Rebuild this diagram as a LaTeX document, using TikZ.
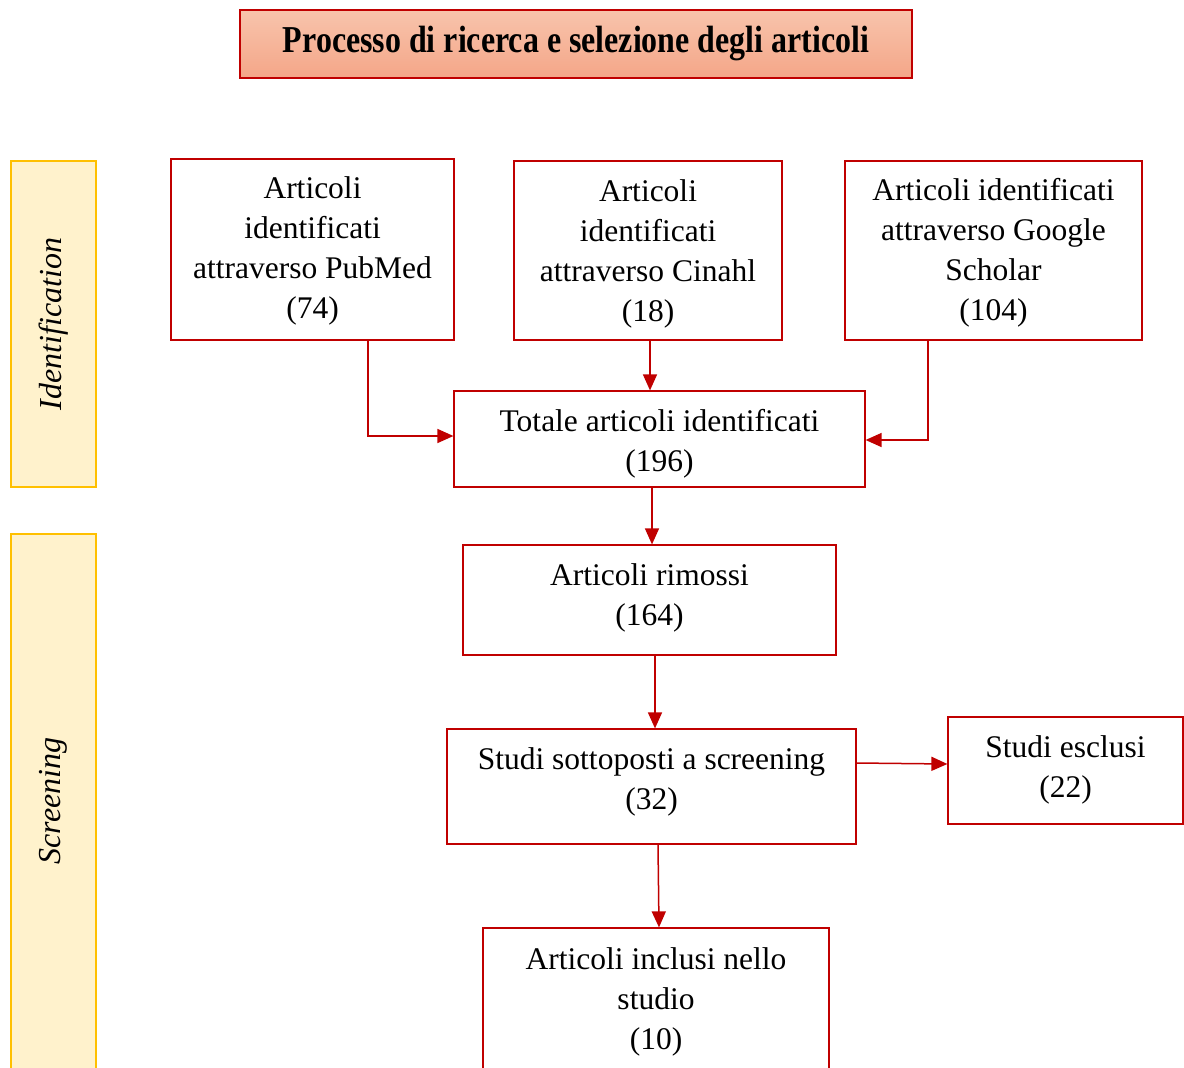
\documentclass[tikz,border=0pt]{standalone}
\usepackage{fontspec}
\setmainfont{Liberation Serif}
\usetikzlibrary{arrows.meta}
\definecolor{boxred}{RGB}{192,0,0}
\definecolor{sidefill}{RGB}{255,242,204}
\definecolor{sidedraw}{RGB}{255,192,0}
\definecolor{titletop}{RGB}{248,196,172}
\definecolor{titlebot}{RGB}{244,166,136}
\newcommand\boxlines[2]{\raisebox{#1}[\height][\depth]{\begin{tabular}{@{}c@{}}#2\end{tabular}}}
\tikzset{
  flowbox/.style={draw=boxred, line width=1.2pt, fill=white, align=center, inner sep=0pt,
    font={\fontsize{31.5}{40}\selectfont}},
  sidebox/.style={draw=sidedraw, line width=1.2pt, fill=sidefill, inner sep=0pt},
  sidetext/.style={rotate=90, font={\fontsize{32}{40}\selectfont\itshape}},
  flowarrow/.style={draw=boxred, line width=1.5pt, -{Triangle[length=16pt,width=14pt]}, color=boxred},
}
\begin{document}
\begin{tikzpicture}[x=1pt,y=-1pt]
\useasboundingbox (0,0) rectangle (1184,1068);
\clip (0,0) rectangle (1184,1068);
% title
\node[draw=boxred, line width=1.5pt, top color=titletop, bottom color=titlebot,
  minimum width=672pt, minimum height=68pt, inner sep=0pt] (title) at (576,44)
  {\resizebox{586pt}{\height}{\fontsize{38}{40}\selectfont\bfseries Processo di ricerca e selezione degli articoli}};
% side panels
\node[sidebox, minimum width=85pt, minimum height=326pt] (idbox) at (53.5,324) {};
\node[sidetext] (idtext) at (idbox.center) {Identification};
\node[sidebox, minimum width=85pt, minimum height=560pt] (scbox) at (53.5,814) {};
\node[sidetext] (sctext) at (53.5,801) {Screening};
% boxes
\node[flowbox, minimum width=283pt, minimum height=181pt] (pubmed) at (312.5,249.5)
  {\boxlines{-1pt}{Articoli\\identificati\\attraverso PubMed\\(74)}};
\node[flowbox, minimum width=268pt, minimum height=179pt] (cinahl) at (648,250.5)
  {\boxlines{-3pt}{Articoli\\identificati\\attraverso Cinahl\\(18)}};
\node[flowbox, minimum width=297pt, minimum height=179pt] (google) at (993.5,250.5)
  {\boxlines{-2pt}{Articoli identificati\\attraverso Google\\Scholar\\(104)}};
\node[flowbox, minimum width=411pt, minimum height=96pt] (totale) at (659.5,439)
  {\boxlines{-4pt}{Totale articoli identificati\\(196)}};
\node[flowbox, minimum width=373pt, minimum height=110pt] (rimossi) at (649.5,600)
  {\boxlines{3pt}{Articoli rimossi\\(164)}};
\node[flowbox, minimum width=409pt, minimum height=115pt] (studi) at (651.5,786.5)
  {\boxlines{5pt}{Studi sottoposti a screening\\(32)}};
\node[flowbox, minimum width=235pt, minimum height=107pt] (esclusi) at (1065.5,770.5)
  {\boxlines{1pt}{Studi esclusi\\(22)}};
\node[flowbox, minimum width=346pt, minimum height=150pt] (inclusi) at (656,1003)
  {\boxlines{2pt}{Articoli inclusi nello\\studio\\(10)}};
% connectors
\draw[flowarrow] (pubmed.south -| 368,0) -- (368,436) -- (totale.west |- 0,436);
\draw[flowarrow] (cinahl.south -| 650,0) -- (totale.north -| 650,0);
\draw[flowarrow] (google.south -| 928,0) -- (928,440) -- (totale.east |- 0,440);
\draw[flowarrow] (totale.south -| 652,0) -- (rimossi.north -| 652,0);
\draw[flowarrow] (rimossi.south -| 655,0) -- (studi.north -| 655,0);
\draw[flowarrow] (studi.east |- 0,763) -- (esclusi.west |- 0,764);
\draw[flowarrow] (studi.south -| 658,0) -- (inclusi.north -| 659,0);
\end{tikzpicture}
\end{document}
